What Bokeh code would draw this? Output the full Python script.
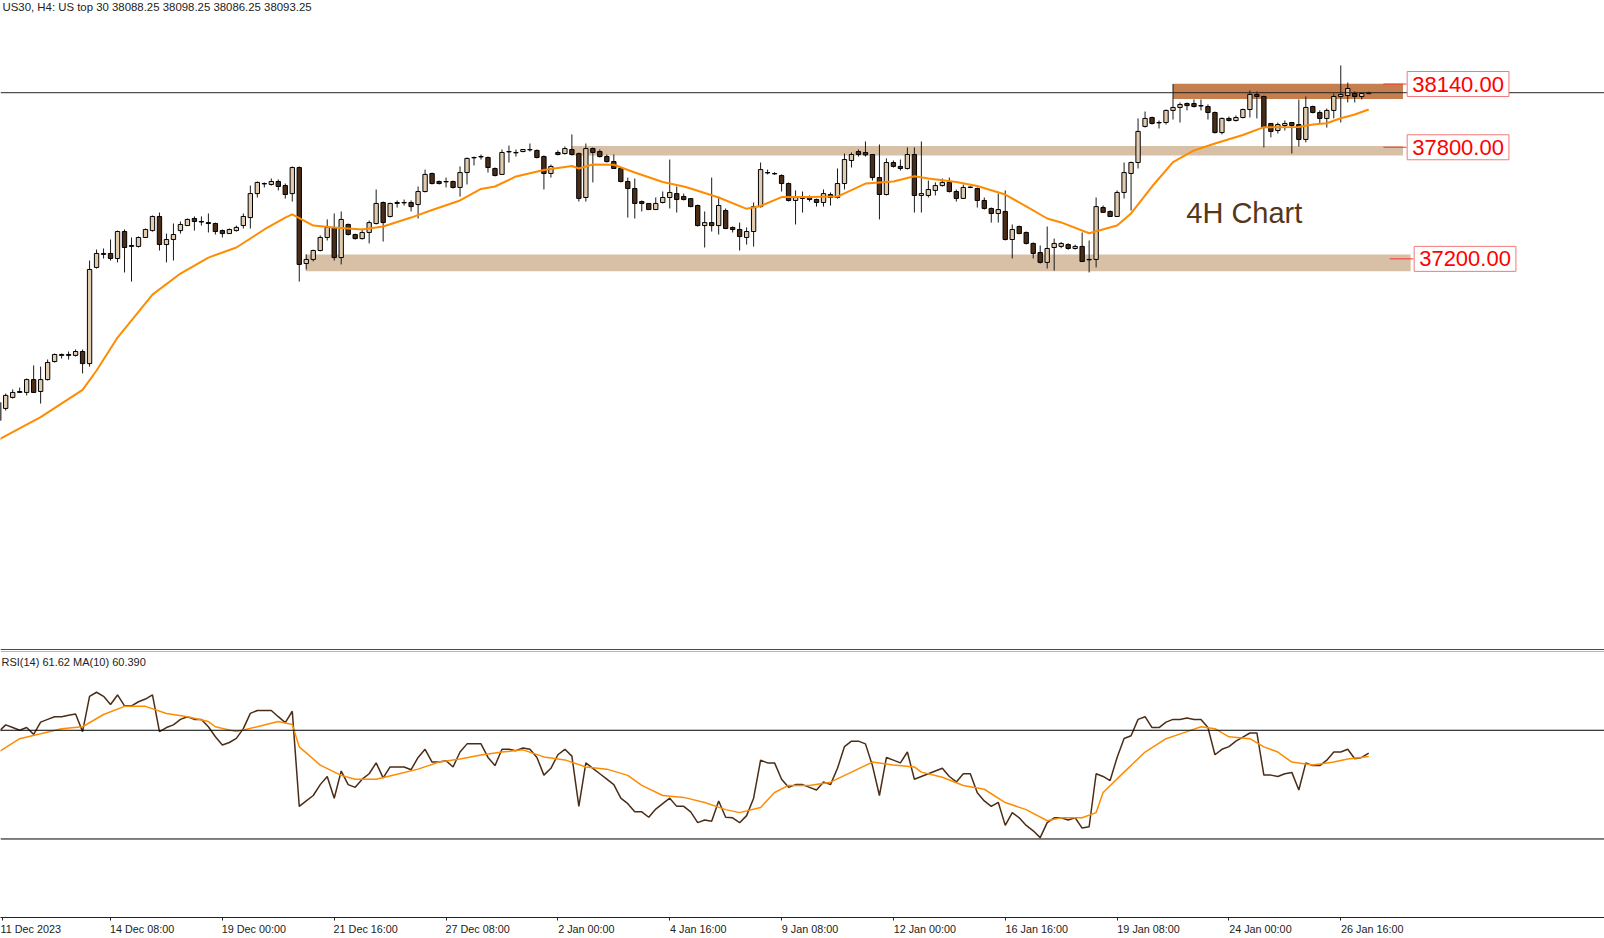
from bokeh.plotting import figure
from bokeh.models import Range1d, ColumnDataSource, Span, Label, FixedTicker
from bokeh.layouts import column
from bokeh.embed import file_html
from bokeh.resources import INLINE

# ---------------- data ----------------
opens = [36331, 36396, 36455, 36482, 36482, 36551, 36487, 36551, 36648, 36681,
         36681, 36681, 36702, 36637, 37154, 37224, 37229, 37202, 37347, 37267,
         37267, 37315, 37352, 37428, 37277, 37304, 37352, 37379, 37417, 37401,
         37395, 37390, 37352, 37336, 37352, 37379, 37422, 37551, 37605, 37600,
         37616, 37594, 37551, 37691, 37175, 37197, 37245, 37315, 37369, 37207,
         37385, 37331, 37309, 37342, 37390, 37503, 37428, 37498, 37503, 37503,
         37492, 37562, 37659, 37616, 37616, 37616, 37584, 37664, 37745, 37750,
         37745, 37686, 37654, 37777, 37772, 37777, 37788, 37783, 37750, 37659,
         37772, 37766, 37788, 37766, 37530, 37793, 37777, 37750, 37723, 37686,
         37616, 37578, 37508, 37498, 37465, 37503, 37530, 37551, 37535, 37524,
         37487, 37379, 37395, 37379, 37460, 37369, 37358, 37315, 37347, 37481,
         37664, 37659, 37648, 37605, 37514, 37535, 37530, 37519, 37503, 37546,
         37530, 37605, 37729, 37777, 37772, 37761, 37637, 37546, 37718, 37697,
         37686, 37761, 37541, 37541, 37568, 37594, 37611, 37562, 37525, 37584,
         37578, 37514, 37471, 37444, 37455, 37304, 37374, 37342, 37283, 37234,
         37181, 37261, 37267, 37277, 37256, 37267, 37197, 37197, 37476, 37455,
         37428, 37557, 37659, 37718, 37912, 37960, 37933, 37933, 37998, 38014,
         38035, 38035, 38024, 38019, 37987, 37879, 37955, 37944, 37960, 38003,
         38084, 38073, 37928, 37890, 37917, 37933, 37922, 37842, 38019, 37987,
         37955, 37998, 38073, 38078, 38089, 38073, 38088.25]
highs = [36449, 36476, 36498, 36508, 36557, 36627, 36621, 36659, 36691, 36691,
         36702, 36713, 36713, 37191, 37250, 37256, 37304, 37352, 37358, 37315,
         37320, 37363, 37433, 37449, 37336, 37390, 37401, 37417, 37428, 37428,
         37444, 37395, 37358, 37363, 37379, 37444, 37594, 37616, 37611, 37632,
         37627, 37605, 37697, 37697, 37224, 37250, 37326, 37412, 37444, 37455,
         37390, 37336, 37363, 37406, 37573, 37508, 37502, 37514, 37519, 37514,
         37589, 37680, 37664, 37621, 37637, 37621, 37697, 37745, 37750, 37761,
         37750, 37691, 37788, 37809, 37788, 37790, 37820, 37788, 37756, 37707,
         37783, 37804, 37869, 37772, 37820, 37799, 37788, 37761, 37761, 37691,
         37637, 37632, 37514, 37499, 37530, 37562, 37734, 37589, 37551, 37526,
         37492, 37455, 37637, 37535, 37471, 37374, 37395, 37369, 37503, 37718,
         37680, 37666, 37654, 37611, 37568, 37562, 37541, 37524, 37573, 37557,
         37686, 37766, 37772, 37788, 37831, 37763, 37815, 37740, 37729, 37734,
         37799, 37799, 37831, 37621, 37611, 37632, 37637, 37573, 37600, 37589,
         37584, 37530, 37476, 37551, 37568, 37385, 37379, 37347, 37288, 37272,
         37374, 37309, 37290, 37284, 37276, 37342, 37299, 37530, 37487, 37460,
         37568, 37718, 37723, 37955, 37992, 37965, 37944, 38003, 38140, 38041,
         38041, 38057, 38057, 38030, 37992, 37960, 37965, 37971, 38008, 38105,
         38100, 38078, 37930, 37933, 37944, 37935, 38057, 38073, 38024, 37998,
         38008, 38089, 38240, 38148, 38100, 38094, 38098.25]
lows = [36277, 36385, 36449, 36482, 36466, 36482, 36422, 36546, 36643, 36664,
        36659, 36675, 36584, 36621, 37148, 37202, 37191, 37181, 37127, 37078,
        37261, 37315, 37347, 37245, 37181, 37191, 37336, 37379, 37352, 37379,
        37342, 37331, 37315, 37336, 37347, 37363, 37363, 37530, 37584, 37594,
        37568, 37524, 37508, 37078, 37143, 37186, 37240, 37299, 37191, 37170,
        37326, 37304, 37304, 37283, 37385, 37293, 37422, 37476, 37487, 37455,
        37417, 37557, 37600, 37600, 37584, 37578, 37535, 37600, 37702, 37734,
        37664, 37643, 37654, 37718, 37750, 37773, 37777, 37740, 37573, 37637,
        37756, 37761, 37756, 37508, 37508, 37611, 37745, 37718, 37683, 37611,
        37422, 37417, 37455, 37464, 37463, 37498, 37471, 37449, 37514, 37478,
        37374, 37261, 37347, 37331, 37360, 37342, 37245, 37277, 37266, 37476,
        37654, 37652, 37562, 37508, 37385, 37449, 37508, 37481, 37481, 37487,
        37524, 37573, 37691, 37750, 37750, 37621, 37412, 37541, 37691, 37675,
        37680, 37449, 37449, 37530, 37541, 37589, 37557, 37508, 37522, 37581,
        37476, 37465, 37395, 37395, 37299, 37202, 37333, 37277, 37202, 37175,
        37148, 37137, 37257, 37249, 37250, 37183, 37127, 37154, 37447, 37426,
        37425, 37524, 37460, 37686, 37906, 37922, 37901, 37922, 37949, 37933,
        37998, 38014, 37998, 37949, 37874, 37869, 37938, 37938, 37955, 37960,
        37955, 37799, 37853, 37874, 37890, 37766, 37804, 37826, 37982, 37928,
        37906, 37955, 37933, 38041, 38041, 38057, 38086.25]
closes = [36428, 36466, 36482, 36487, 36551, 36482, 36551, 36643, 36686, 36686,
          36686, 36702, 36637, 37143, 37229, 37229, 37202, 37347, 37261, 37272,
          37315, 37358, 37428, 37277, 37304, 37331, 37385, 37412, 37401, 37398,
          37390, 37347, 37336, 37358, 37369, 37428, 37551, 37611, 37603, 37616,
          37589, 37546, 37691, 37170, 37197, 37245, 37315, 37369, 37207, 37412,
          37331, 37309, 37342, 37395, 37498, 37395, 37498, 37503, 37501, 37481,
          37562, 37654, 37605, 37605, 37614, 37584, 37664, 37740, 37743, 37748,
          37691, 37648, 37772, 37775, 37770, 37788, 37786, 37745, 37659, 37697,
          37761, 37793, 37761, 37525, 37793, 37772, 37750, 37723, 37686, 37616,
          37578, 37498, 37498, 37465, 37498, 37530, 37557, 37519, 37519, 37481,
          37379, 37395, 37379, 37487, 37363, 37358, 37320, 37347, 37481, 37680,
          37662, 37657, 37605, 37514, 37530, 37525, 37519, 37503, 37551, 37530,
          37605, 37734, 37761, 37761, 37759, 37637, 37546, 37718, 37697, 37686,
          37761, 37541, 37551, 37573, 37594, 37611, 37562, 37525, 37584, 37586,
          37514, 37471, 37444, 37465, 37304, 37358, 37336, 37283, 37229, 37181,
          37256, 37283, 37283, 37256, 37267, 37186, 37195, 37481, 37450, 37428,
          37557, 37664, 37718, 37885, 37955, 37928, 37931, 37998, 38014, 38030,
          38024, 38019, 38022, 37987, 37879, 37955, 37944, 37960, 38003, 38084,
          38073, 37906, 37885, 37922, 37928, 37917, 37842, 38014, 37987, 37955,
          37998, 38073, 38084, 38116, 38073, 38089, 38093.25]

# moving average of price (read at sampled bars)
ma_idx = [0, 6, 12, 14, 17, 22, 26, 30, 34, 38, 41, 42, 45, 48, 52, 55, 59, 62, 66, 69,
          71, 74, 78, 82, 83, 85, 88, 91, 95, 98, 99, 103, 107, 109, 112, 116, 120, 124,
          128, 131, 133, 137, 140, 144, 147, 150, 152, 156, 160, 162, 165, 168, 171, 174,
          178, 181, 186, 188, 190, 192, 194, 196]
ma_val = [36229, 36349, 36496, 36600, 36777, 37008, 37121, 37207, 37261, 37358, 37422,
          37439, 37379, 37369, 37358, 37374, 37422, 37463, 37514, 37576, 37589, 37643,
          37678, 37699, 37686, 37707, 37706, 37664, 37613, 37589, 37578, 37530, 37469,
          37484, 37532, 37533, 37535, 37605, 37616, 37644, 37632, 37613, 37592, 37546,
          37482, 37417, 37396, 37338, 37379, 37444, 37589, 37720, 37783, 37820, 37866,
          37908, 37909, 37922, 37929, 37956, 37976, 38003]

rsi = [69.5, 72, 71, 70, 71, 68.5, 73, 74, 75, 75,
       75.5, 76, 69.5, 82.5, 84, 82.5, 79.5, 83, 79, 79,
       80.5, 81.5, 83, 69.5, 71, 72, 74, 75, 74, 74,
       71.3, 67.6, 64.6, 65.5, 67, 70.6, 76.2, 77.3, 77.3, 77.3,
       75, 72.8, 77, 42, 44, 46, 50, 53, 45, 55,
       50, 49, 52, 54, 58, 52.5, 56.5, 56.5, 56.5, 55.5,
       60, 63, 58.3, 58.3, 58.8, 56.5, 62, 65, 65, 65,
       60, 57, 63, 63, 62.5, 63.5, 63, 60, 53.5, 56,
       61, 63, 60.5, 42, 58, 56, 54, 52, 50, 45,
       43, 40, 40, 38, 41, 43, 45, 42, 42, 40,
       36, 37, 36.5, 44, 38, 37.8, 36, 38.6, 45, 59,
       58, 58, 52, 49, 50, 50, 49, 48, 51, 50,
       56, 64, 66, 66, 65, 57, 46, 60, 59, 58,
       62, 52, 53, 54, 55, 56, 53, 51, 54, 54,
       47, 44, 42, 43.5, 35, 39.7, 37.8, 35, 33, 30.5,
       36, 37.8, 37.8, 37, 37.8, 34, 34.5, 54, 53, 51.5,
       60, 67, 68, 74, 75, 71, 71, 73, 74, 74,
       74.5, 74, 74, 71, 61, 63, 64, 66, 67.5, 69,
       69, 53.5, 53.5, 53, 54, 54.5, 48, 58, 57, 57,
       59, 62, 62, 63, 59.5, 60, 61.62]

rsi_ma_idx = [0, 3, 6, 9, 12, 15, 18, 21, 24, 27, 30, 31, 34, 37, 40, 42, 43, 46, 49, 51,
              54, 57, 60, 63, 66, 69, 72, 75, 78, 81, 84, 87, 90, 92, 95, 98, 101, 104,
              106, 109, 111, 113, 116, 119, 122, 125, 128, 131, 132, 135, 138, 141, 144,
              147, 150, 152, 155, 157, 158, 161, 164, 167, 170, 172, 174, 176, 179, 181,
              183, 185, 188, 191, 193, 196]
rsi_ma_val = [62.0, 66.9, 68.7, 70.6, 71.3, 75.8, 78.8, 78.8, 76.2, 75.0, 73.2, 71.3, 69.5,
              71.3, 73.2, 72.1, 63.9, 57.2, 53.4, 52.0, 52.0, 53.8, 55.7, 58.3, 59.4, 60.9,
              62.0, 62.8, 60.2, 59.1, 56.5, 55.7, 53.4, 49.7, 46.0, 45.3, 43.4, 40.8, 39.7,
              41.6, 47.1, 49.7, 49.7, 50.9, 54.6, 58.3, 57.2, 56.5, 54.6, 52.7, 49.7, 48.3,
              43.4, 40.8, 36.7, 37.8, 37.8, 39.7, 47.1, 54.6, 62.0, 66.9, 69.5, 71.3, 70.6,
              67.6, 66.9, 63.9, 62.0, 58.3, 57.2, 58.3, 59.4, 60.39]

tick_idx = [16, 32, 48, 64, 80, 96, 112, 128, 144, 160, 176, 192]
tick_labels = ["14 Dec 08:00", "19 Dec 00:00", "21 Dec 16:00", "27 Dec 08:00",
               "2 Jan 00:00", "4 Jan 16:00", "9 Jan 08:00", "12 Jan 00:00",
               "16 Jan 16:00", "19 Jan 08:00", "24 Jan 00:00", "26 Jan 16:00"]
first_label = "11 Dec 2023"

level_prices = [38140, 37800, 37200]
level_texts = ["38140.00", "37800.00", "37200.00"]
zone_top = [38141, 37807, 37224]
zone_bottom = [38060, 37756, 37134]
zone_left = [168.0, 81.9, 43.9]
zone_right = [200.9, 200.9, 202.0]
zone_colors = ["#c57f4f", "#d8c0a6", "#d8c0a6"]

last_price = 38093.25
rsi_levels = [70, 30]
title_text = "US30, H4:  US top 30  38088.25 38098.25 38086.25 38093.25"
rsi_text = "RSI(14) 61.62 MA(10) 60.390"

# ---------------- styling ----------------
BULL = "#e2ccb0"
BEAR = "#4b2d17"
ORANGE = "#ff8c00"
FONT = "Liberation Sans"

W = 1604
x_rng = Range1d(0.2575, 229.73)

p1 = figure(width=W, height=650, x_range=x_rng, y_range=Range1d(35094.6, 38589.0),
            output_backend="svg", toolbar_location=None,
            x_axis_location=None, y_axis_location=None,
            min_border_left=0, min_border_right=0, min_border_top=0, min_border_bottom=0)
p1.outline_line_color = None
p1.xgrid.visible = False
p1.ygrid.visible = False
p1.background_fill_color = "white"
p1.border_fill_color = "white"

# zones
p1.quad(left=zone_left, right=zone_right, top=zone_top, bottom=zone_bottom,
        fill_color=zone_colors, line_color=None)

n = len(opens)
idx = list(range(n))
body_top = [max(o, c) for o, c in zip(opens, closes)]
body_bot = [min(o, c) for o, c in zip(opens, closes)]
colors = [BULL if c >= o else BEAR for o, c in zip(opens, closes)]
src = ColumnDataSource(dict(x=idx, high=highs, low=lows, top=body_top, bottom=body_bot, color=colors))

p1.segment(x0="x", y0="high", x1="x", y1="low", source=src, line_color="#1a1a1a", line_width=1)
p1.vbar(x="x", top="top", bottom="bottom", width=0.62, source=src,
        fill_color="color", line_color="black", line_width=1)

p1.line(ma_idx, ma_val, line_color=ORANGE, line_width=2)

p1.add_layout(Span(location=last_price, dimension="width", line_color="#222222", line_width=1))
# panel separator (bottom edge of the price window)
p1.add_layout(Span(location=35097, dimension="width", line_color="#4a4a4a", line_width=2))

# level markers
seg_x0 = [198.1, 198.1, 199.0]
seg_x1 = [201.4, 201.4, 202.4]
p1.segment(x0=seg_x0, y0=level_prices, x1=seg_x1, y1=level_prices, line_color="#ff3030", line_width=1)
label_x = [201.5, 201.5, 202.5]
for lx, ly, lt in zip(label_x, level_prices, level_texts):
    p1.add_layout(Label(x=lx, y=ly, text=lt, text_color="#ff0000", text_font=FONT,
                        text_font_size="22px", text_baseline="middle", text_align="left",
                        border_line_color="#f07a7a", border_line_width=1,
                        background_fill_color="white", padding=5))

p1.add_layout(Label(x=169.9, y=37444, text="4H Chart", text_color="#563719", text_font=FONT,
                    text_font_size="29px", text_baseline="middle"))

p1.add_layout(Label(x=2, y=650, x_units="screen", y_units="screen", text=title_text,
                    text_font=FONT, text_font_size="11.4px", text_color="#222222",
                    text_baseline="top"))

# ---------------- RSI panel ----------------
p2 = figure(width=W, height=287, x_range=x_rng, y_range=Range1d(1.10, 99.36),
            output_backend="svg", toolbar_location=None, y_axis_location=None,
            min_border_left=0, min_border_right=0, min_border_top=0, min_border_bottom=18)
p2.outline_line_color = None
p2.xgrid.visible = False
p2.ygrid.visible = False
p2.border_fill_color = "white"

p2.add_layout(Span(location=99.0, dimension="width", line_color="#b4b4b4", line_width=1))
for lv in rsi_levels:
    p2.add_layout(Span(location=lv, dimension="width", line_color="black", line_width=1))

p2.line(idx, rsi, line_color=BEAR, line_width=1.5)
p2.line(rsi_ma_idx, rsi_ma_val, line_color=ORANGE, line_width=1.5)

p2.add_layout(Label(x=1, y=97.3, x_units="screen", text=rsi_text, text_font=FONT,
                    text_font_size="11px", text_color="#222222", text_baseline="top"))

# tick labels start at their tick (left aligned): pad with no-break spaces
LBL_FS = 10.8
CW = {" ": 0.278, ":": 0.278, "D": 0.722, "e": 0.556, "c": 0.5, "J": 0.5, "a": 0.556, "n": 0.556}


def left_aligned(text):
    w = sum(CW.get(ch, 0.556) for ch in text)
    k = int(round(w / 0.278))
    return "\u00a0" * k + text


ax = p2.xaxis[0]
ax.ticker = FixedTicker(ticks=[0.5] + tick_idx)
overrides = {0.5: first_label}
for t, l in zip(tick_idx, tick_labels):
    overrides[t] = left_aligned(l)
ax.major_label_overrides = overrides
ax.major_label_text_font = FONT
ax.major_label_text_font_size = f"{LBL_FS}px"
ax.major_label_text_color = "#222222"
ax.major_label_standoff = 2
ax.major_tick_out = 3
ax.major_tick_in = 0
ax.minor_tick_out = 0
ax.minor_tick_in = 0
ax.axis_line_color = "#222222"
ax.major_tick_line_color = "#222222"

layout = column(p1, p2)
open("out.html", "w").write(file_html(layout, INLINE))
